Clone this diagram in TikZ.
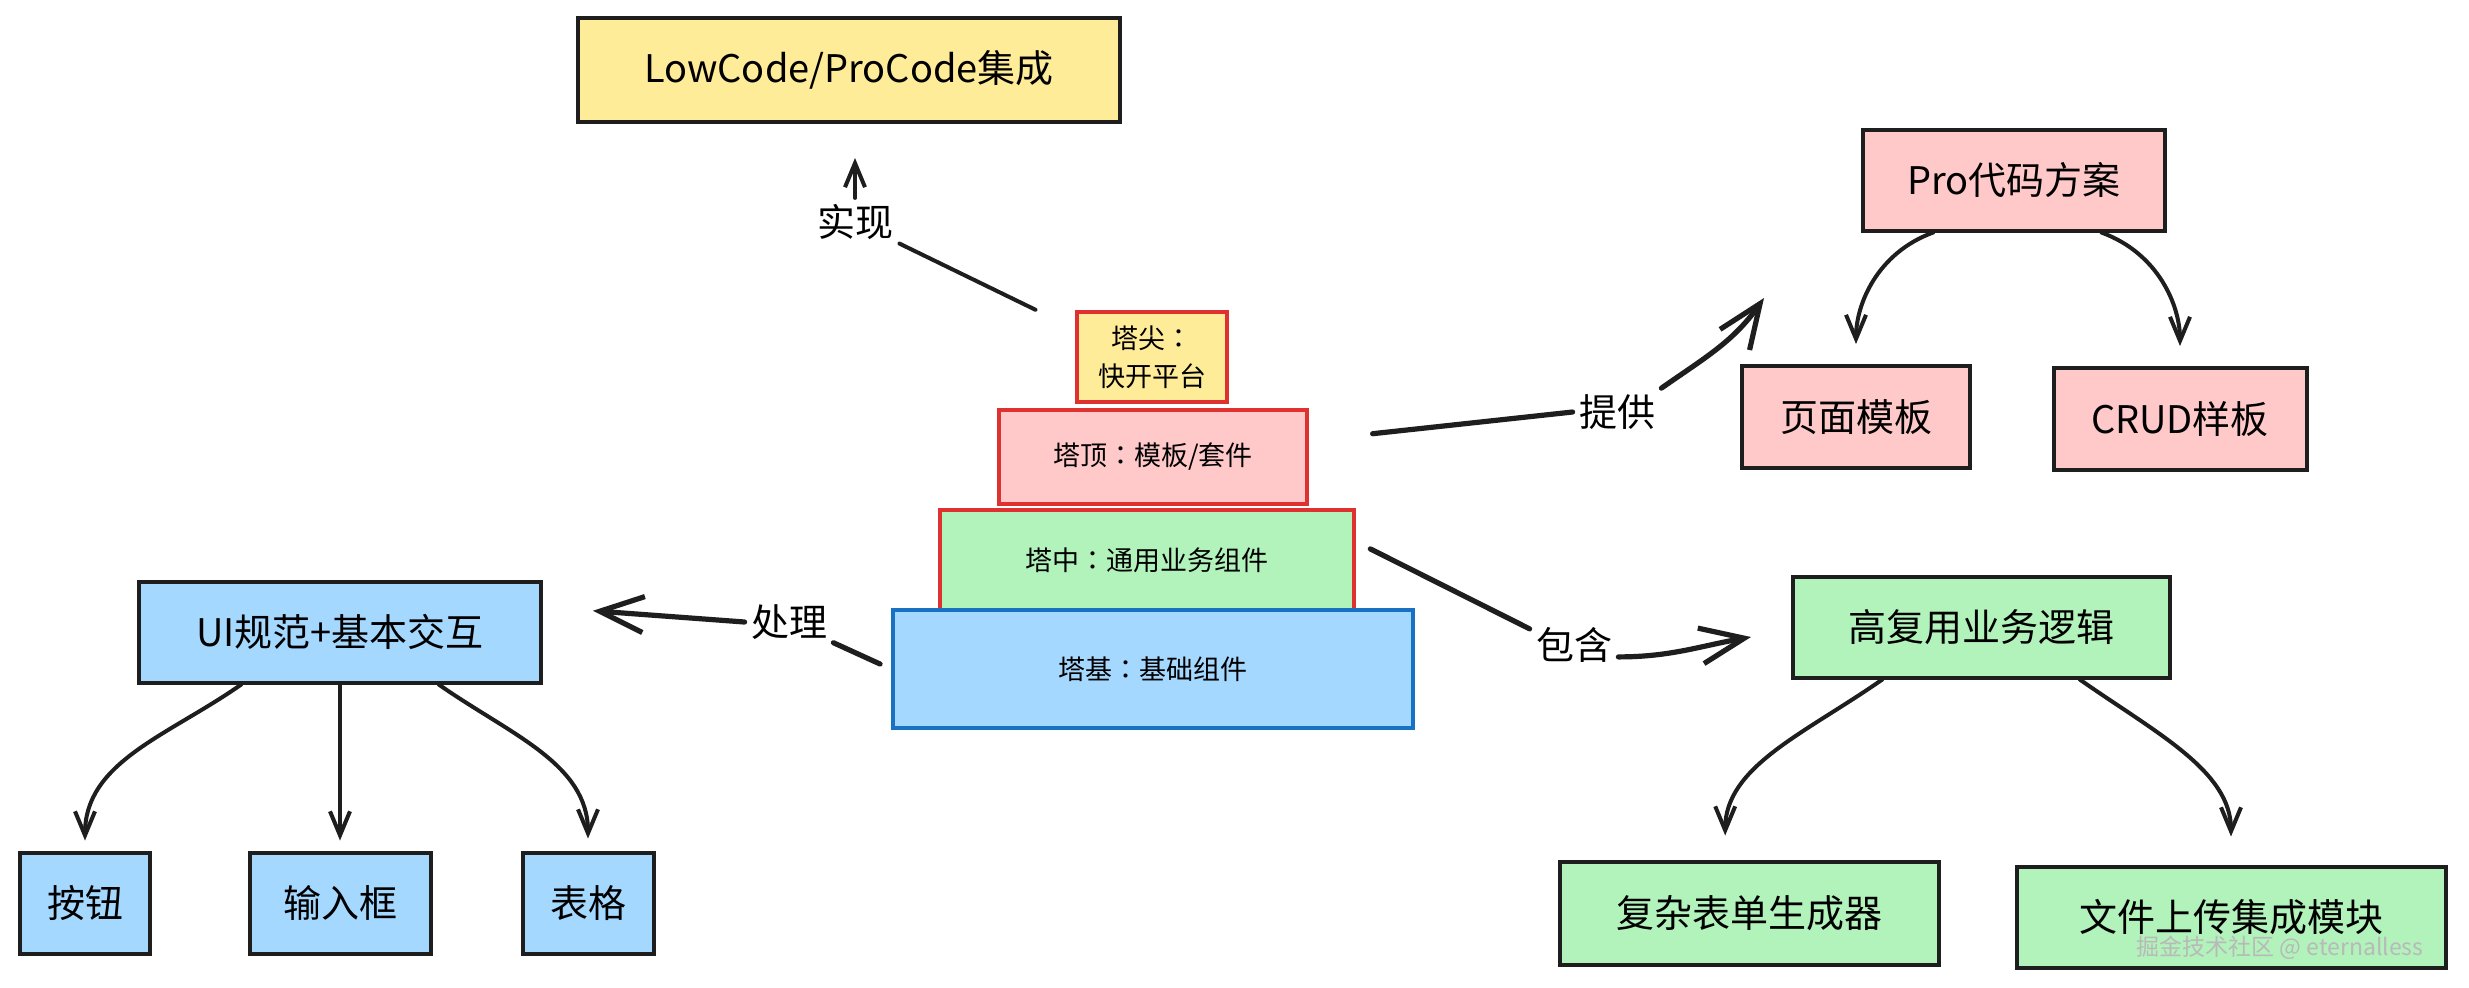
\documentclass[tikz,border=0pt]{standalone}
\usepackage{fontspec}
\setmainfont{Noto Sans CJK SC}
\newfontfamily\midcolonfont{Noto Sans CJK TC}
\newcommand\tiercolon{{\midcolonfont ：}}
\usetikzlibrary{arrows.meta}
\definecolor{padyellow}{HTML}{FFEC99}
\definecolor{padpink}{HTML}{FFC9C9}
\definecolor{padgreen}{HTML}{B2F2BB}
\definecolor{padblue}{HTML}{A5D8FF}
\definecolor{edgered}{HTML}{E03131}
\definecolor{edgeblue}{HTML}{1971C2}
\definecolor{ink}{HTML}{1E1E1E}

\begin{document}
\begin{tikzpicture}[x=0.5pt,y=-0.5pt,
	box/.style={draw=ink,line width=2pt,inner sep=0pt,font=\fontsize{19}{23}\selectfont},
	tier/.style={draw=edgered,line width=2pt,inner sep=0pt,align=center,font=\fontsize{13.5}{19}\selectfont},
	tag/.style={inner sep=3pt,font=\fontsize{19}{23}\selectfont},
	wire/.style={draw=ink,line width=2.6pt,line cap=round},
	flow/.style={wire,-{Straight Barb[length=22pt,width=18pt]}},
	link/.style={draw=ink,line width=2pt,line cap=round,-{Straight Barb[length=12pt,width=10pt]}}]
	\fill[white] (0,0) rectangle (2469,987);
	\useasboundingbox (0,0) rectangle (2469,987);

	\node[box,fill=padyellow,minimum width=271pt,minimum height=52pt] (lowpro) at (849,70) {LowCode/ProCode集成};
	\node[tier,fill=padyellow,minimum width=75pt,minimum height=45pt] (tip) at (1152,357) {塔尖\tiercolon\\快开平台};
	\node[tier,fill=padpink,minimum width=154pt,minimum height=47pt] (top) at (1153,457) {塔顶\tiercolon 模板/套件};
	\node[tier,fill=padgreen,minimum width=207pt,minimum height=50pt] (mid) at (1147,560) {塔中\tiercolon 通用业务组件};
	\node[tier,draw=edgeblue,fill=padblue,minimum width=260pt,minimum height=59pt] (base) at (1153,669) {塔基\tiercolon 基础组件};

	\node[box,fill=padpink,minimum width=151pt,minimum height=50.5pt] (pro) at (2014,180) {Pro代码方案};
	\node[box,fill=padpink,minimum width=114pt,minimum height=51pt] (page) at (1856,417) {页面模板};
	\node[box,fill=padpink,minimum width=126.5pt,minimum height=51pt] (crud) at (2180,419) {CRUD样板};
	\node[box,fill=padgreen,minimum width=188.5pt,minimum height=50.5pt] (reuse) at (1981,627) {高复用业务逻辑};
	\node[box,fill=padgreen,minimum width=189.5pt,minimum height=51.5pt] (form) at (1749,913) {复杂表单生成器};
	\node[box,fill=padgreen,minimum width=214.5pt,minimum height=50.5pt] (upload) at (2231,917) {文件上传集成模块};

	\node[box,fill=padblue,minimum width=201pt,minimum height=50.5pt] (ui) at (340,632) {UI规范+基本交互};
	\node[box,fill=padblue,minimum width=65pt,minimum height=50.5pt] (btn) at (85,903) {按钮};
	\node[box,fill=padblue,minimum width=90.5pt,minimum height=50.5pt] (input) at (340,903) {输入框};
	\node[box,fill=padblue,minimum width=65.5pt,minimum height=50.5pt] (table) at (588,903) {表格};

	\node[tag] (impl) at (855,222) {实现};
	\node[tag] (give) at (1617,412) {提供};
	\node[tag] (has) at (1574,645) {包含};
	\node[tag] (proc) at (789,622) {处理};
	\coordinate (give-end) at (1764,298);
	\coordinate (has-end) at (1751,637);

	% labelled arrows from the tiers
	\draw[wire,line width=2pt,shorten <=22pt] (tip.160) -- (impl);
	\draw[link,shorten >=17pt] (impl.north) -- (impl.north |- lowpro.south);
	\draw[wire,shorten <=32pt] (top.6) -- (give.west);
	\draw[flow] (give.north east) to[out=35,in=235] (give-end);
	\draw[wire,shorten <=8pt] (mid.5) -- (has.160);
	\draw[flow] (has.-15) to[out=0,in=190] (has-end);
	\draw[wire,shorten <=6pt] (base.west) -- (proc.-25);
	\draw[flow,shorten >=25pt] (proc.west) -- (ui.7);

	% children
	\draw[link,shorten >=10pt] (pro.213) to[out=200,in=90] (page.north);
	\draw[link,shorten >=10pt] (pro.329) to[out=-20,in=90] (crud.north);
	\draw[link,shorten >=12pt] (reuse.208) to[out=215,in=90] (form.114);
	\draw[link,shorten >=14pt] (reuse.332) to[out=-35,in=90] (upload.north);
	\draw[link,shorten >=5pt] (ui.208) to[out=215,in=90] (btn.north);
	\draw[link,shorten >=5pt] (ui.south) -- (input.north);
	\draw[link,shorten >=6pt] (ui.332) to[out=-35,in=90] (table.north);

	\node[text=gray!55,font=\fontsize{11.5}{14}\selectfont] (mark) at (2280,948) {掘金技术社区 @ eternalless};
\end{tikzpicture}
\end{document}
